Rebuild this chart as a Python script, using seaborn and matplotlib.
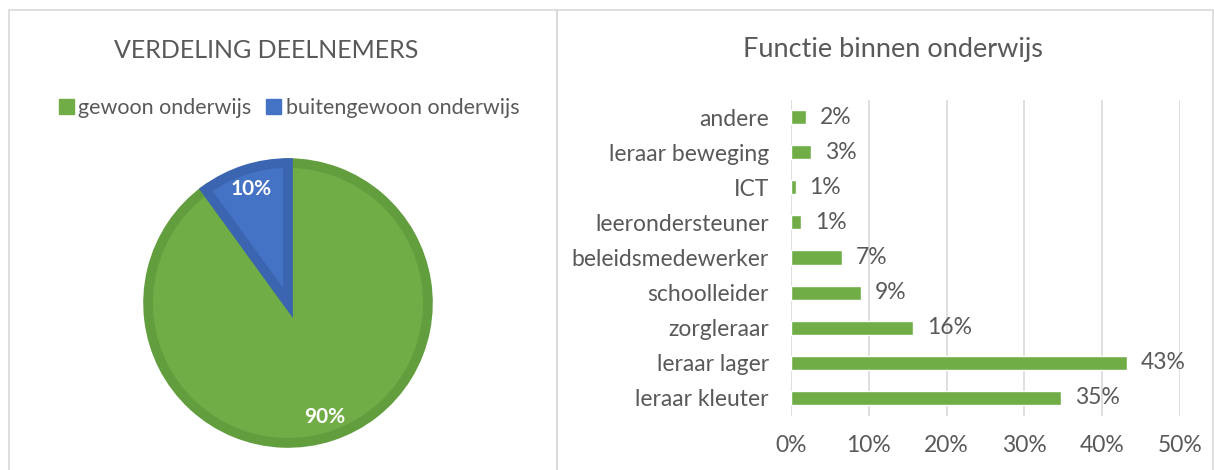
import matplotlib.pyplot as plt
from matplotlib.patches import Rectangle, Patch
import seaborn as sns

# Data
pie_labels = ['gewoon onderwijs', 'buitengewoon onderwijs']
pie_values = [90, 10]
pie_colors = ['#70AD47', '#4472C4']
pie_edges = ['#629D3E', '#3B65B1']

functies = ['andere', 'leraar beweging', 'ICT', 'leerondersteuner',
            'beleidsmedewerker', 'schoolleider', 'zorgleraar',
            'leraar lager', 'leraar kleuter']
aandeel = [0.019, 0.026, 0.006, 0.013, 0.066, 0.090, 0.157, 0.432, 0.347]
x_ticks = [0, 0.1, 0.2, 0.3, 0.4, 0.5]

sns.set_style('white')
plt.rcParams['font.family'] = ['Lato', 'DejaVu Sans']
text_color = '#595959'
grid_color = '#D9D9D9'

W, H = 1214, 470
fig = plt.figure(figsize=(W / 100, H / 100), dpi=100)

# Panel borders
for x0, x1 in [(9, 557), (557, 1213)]:
    fig.patches.append(Rectangle((x0 / W, -0.05), (x1 - x0) / W, (H - 10.5) / H + 0.05,
                                 transform=fig.transFigure, fill=False,
                                 edgecolor='#D9D9D9', linewidth=1.2))

# Left panel: pie
fig.text(266 / W, 1 - 50 / H, 'VERDELING DEELNEMERS', ha='center', va='center',
         fontsize=18, color=text_color)
handles = [Patch(facecolor=c, edgecolor=c) for c in pie_colors]
fig.legend(handles, pie_labels, loc='center', bbox_to_anchor=(289 / W, 1 - 108 / H),
           ncol=2, frameon=False, fontsize=15.5, labelcolor=text_color,
           handlelength=0.7, handleheight=0.7, handletextpad=0.2, columnspacing=0.7)

cx, cy, r = 288, 303, 145
ax_pie = fig.add_axes([(cx - r) / W, (H - cy - r) / H, 2 * r / W, 2 * r / H])
wedges, _, autotexts = ax_pie.pie(pie_values, colors=pie_colors, startangle=90,
                                  counterclock=False, radius=0.965,
                                  autopct='%1.0f%%', pctdistance=0.86,
                                  wedgeprops=dict(linewidth=7))
for w, ec in zip(wedges, pie_edges):
    w.set_edgecolor(ec)
for t in autotexts:
    t.set_color('white')
    t.set_fontweight('bold')
    t.set_fontsize(15)
ax_pie.set_xlim(-1, 1)
ax_pie.set_ylim(-1, 1)
ax_pie.set_aspect('equal')
ax_pie.axis('off')

# Right panel: horizontal bars
fig.text(893 / W, 1 - 50 / H, 'Functie binnen onderwijs', ha='center', va='center',
         fontsize=19.5, color=text_color)
left, right, top, bottom = 791, 1180, 99.5, 415.5
ax = fig.add_axes([left / W, (H - bottom) / H, (right - left) / W, (bottom - top) / H])
sns.barplot(x=aandeel, y=functies, color='#70AD47', saturation=1, width=0.4,
            orient='h', ax=ax)
ax.bar_label(ax.containers[0], labels=[f'{v:.0%}' for v in aandeel], padding=10,
             fontsize=16.5, color=text_color)
ax.set_xlim(0, 0.5)
ax.set_xticks(x_ticks)
ax.set_xticklabels([f'{v:.0%}' for v in x_ticks])
ax.xaxis.grid(True, color=grid_color, linewidth=1.2)
ax.set_axisbelow(True)
sns.despine(ax=ax, left=True, bottom=True)
ax.tick_params(axis='both', length=0, labelsize=16.5, colors=text_color)
ax.tick_params(axis='x', pad=14)
ax.tick_params(axis='y', pad=16)
ax.set_xlabel('')
ax.set_ylabel('')

fig.savefig('out.png', dpi=100)
